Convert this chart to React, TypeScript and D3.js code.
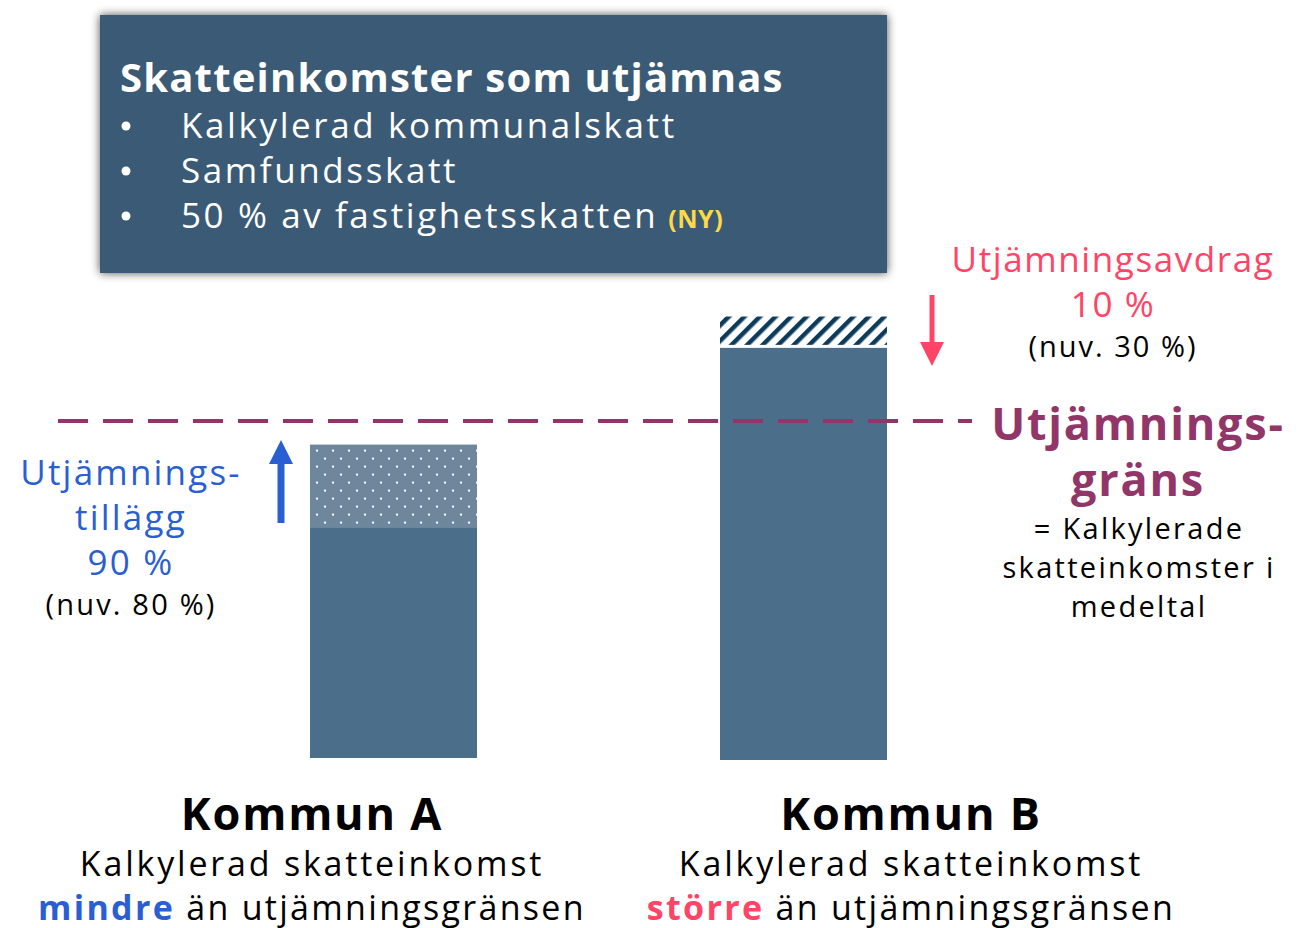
import React from "react";
import * as d3 from "d3";

// Chart values (equalisation limit = 100)
const kommuner = ["Kommun A", "Kommun B"];
const baseValues = [68.5, 121.7]; // calculated tax income
const adjustedTop = [93, 131]; // top of supplement (A) / deduction (B)
const limitValue = 100;

const boxTitle = "Skatteinkomster som utjämnas";
const boxItems = ["Kalkylerad kommunalskatt", "Samfundsskatt", "50 % av fastighetsskatten"];

const W = 1301;
const H = 928;
const FONT = "'Open Sans', sans-serif";

const BAR = "#4b6f8a";
const DOT_BG = "#6f879c";
const HATCH = "#0d3b5c";
const PURPLE = "#923568";
const BLUE = "#2a5fd3";
const RED = "#ff4466";

export default function App() {
  const y = d3.scaleLinear().domain([0, limitValue]).range([758, 421]);
  const x = d3
    .scaleBand<string>()
    .domain(kommuner)
    .range([310, 887])
    .paddingInner(0.5927)
    .paddingOuter(0);
  const bw = x.bandwidth();

  const xa = x("Kommun A")!;
  const xb = x("Kommun B")!;

  return (
    <div style={{ position: "fixed", left: 0, top: 0 }}>
      <svg width={W} height={H} style={{ display: "block", background: "#fff" }}>
        <defs>
          <filter id="shadow" x="-10%" y="-20%" width="120%" height="140%">
            <feDropShadow dx="0" dy="0" stdDeviation="5" floodColor="#000" floodOpacity="0.7" />
          </filter>
          <pattern id="dots" width="16" height="16" patternUnits="userSpaceOnUse" x={xa} y={y(adjustedTop[0])}>
            <rect width="16" height="16" fill={DOT_BG} />
            <rect x="6" y="5" width="2" height="2" fill="#fff" />
            <rect x="14" y="13" width="2" height="2" fill="#fff" />
          </pattern>
          <pattern
            id="hatch"
            width="11"
            height="11"
            patternUnits="userSpaceOnUse"
            patternTransform="rotate(45)"
          >
            <rect width="11" height="11" fill="#fff" />
            <rect x="0" y="0" width="4.5" height="11" fill={HATCH} />
          </pattern>
        </defs>

        {/* Info box */}
        <rect x={100} y={15} width={787} height={258} fill="#3a5a75" filter="url(#shadow)" />
        <text x={120} y={92} fill="#fff" fontFamily={FONT} fontWeight={700} fontSize={40} letterSpacing={1.2}>
          {boxTitle}
        </text>
        {boxItems.map((t, i) => (
          <g key={t} fontFamily={FONT} fontSize={35} fill="#fff">
            <circle cx={126} cy={126 + i * 45} r={4.5} />
            <text x={181} y={138 + i * 45} letterSpacing={2.6}>
              {t}
              {i === 2 && (
                <tspan fill="#ffd84a" fontWeight={700} fontSize={25} dx={10} letterSpacing={0.5}>
                  (NY)
                </tspan>
              )}
            </text>
          </g>
        ))}

        {/* Bars */}
        <rect x={xa} y={y(baseValues[0])} width={bw} height={y(0) - y(baseValues[0])} fill={BAR} />
        <rect
          x={xa}
          y={y(adjustedTop[0])}
          width={bw}
          height={y(baseValues[0]) - y(adjustedTop[0])}
          fill="url(#dots)"
        />
        <rect x={xb} y={y(baseValues[1])} width={bw} height={y(0) - y(baseValues[1]) + 2} fill={BAR} />
        <rect
          x={xb}
          y={y(adjustedTop[1])}
          width={bw}
          height={y(baseValues[1]) - y(adjustedTop[1]) - 3}
          fill="url(#hatch)"
        />

        {/* Equalisation limit */}
        <line
          x1={58}
          x2={972}
          y1={y(limitValue)}
          y2={y(limitValue)}
          stroke={PURPLE}
          strokeWidth={4}
          strokeDasharray="30 15"
        />

        {/* Arrows */}
        <line x1={281} x2={281} y1={523} y2={460} stroke={BLUE} strokeWidth={7} />
        <path d="M269,464 L281,440 L293,464 Z" fill={BLUE} />
        <line x1={932} x2={932} y1={295} y2={345} stroke={RED} strokeWidth={5} />
        <path d="M920,342 L932,366 L944,342 Z" fill={RED} />

        {/* Left annotation */}
        <g fontFamily={FONT} textAnchor="middle">
          <text x={131} y={485} fill={BLUE} fontSize={35} letterSpacing={2.2}>Utjämnings-</text>
          <text x={131} y={530} fill={BLUE} fontSize={35} letterSpacing={2.2}>tillägg</text>
          <text x={131} y={575} fill={BLUE} fontSize={35} letterSpacing={2.2}>90 %</text>
          <text x={131} y={615} fill="#000" fontSize={29} letterSpacing={2.2}>(nuv. 80 %)</text>
        </g>

        {/* Right annotations */}
        <g fontFamily={FONT} textAnchor="middle">
          <text x={1113} y={272} fill={RED} fontSize={35} letterSpacing={1.6}>Utjämningsavdrag</text>
          <text x={1113} y={317} fill={RED} fontSize={35} letterSpacing={1.6}>10 %</text>
          <text x={1113} y={357} fill="#000" fontSize={29} letterSpacing={2}>(nuv. 30 %)</text>

          <text x={1138} y={440} fill={PURPLE} fontSize={45} fontWeight={700} letterSpacing={1.8}>Utjämnings-</text>
          <text x={1138} y={496} fill={PURPLE} fontSize={45} fontWeight={700} letterSpacing={1.8}>gräns</text>
          <text x={1139} y={539} fill="#000" fontSize={29} letterSpacing={2.3}>= Kalkylerade</text>
          <text x={1139} y={578} fill="#000" fontSize={29} letterSpacing={2.3}>skatteinkomster i</text>
          <text x={1139} y={617} fill="#000" fontSize={29} letterSpacing={2.3}>medeltal</text>
        </g>

        {/* Category labels */}
        <g fontFamily={FONT} textAnchor="middle" fill="#000">
          <text x={312} y={830} fontSize={45} fontWeight={700} letterSpacing={1.8}>{kommuner[0]}</text>
          <text x={312} y={876} fontSize={34} letterSpacing={2.8}>Kalkylerad skatteinkomst</text>
          <text x={312} y={920} fontSize={34} letterSpacing={2.3}>
            <tspan fill={BLUE} fontWeight={700}>mindre</tspan> än utjämningsgränsen
          </text>
          <text x={911} y={830} fontSize={45} fontWeight={700} letterSpacing={1.8}>{kommuner[1]}</text>
          <text x={911} y={876} fontSize={34} letterSpacing={2.8}>Kalkylerad skatteinkomst</text>
          <text x={911} y={920} fontSize={34} letterSpacing={2.3}>
            <tspan fill={RED} fontWeight={700}>större</tspan> än utjämningsgränsen
          </text>
        </g>
      </svg>
    </div>
  );
}
